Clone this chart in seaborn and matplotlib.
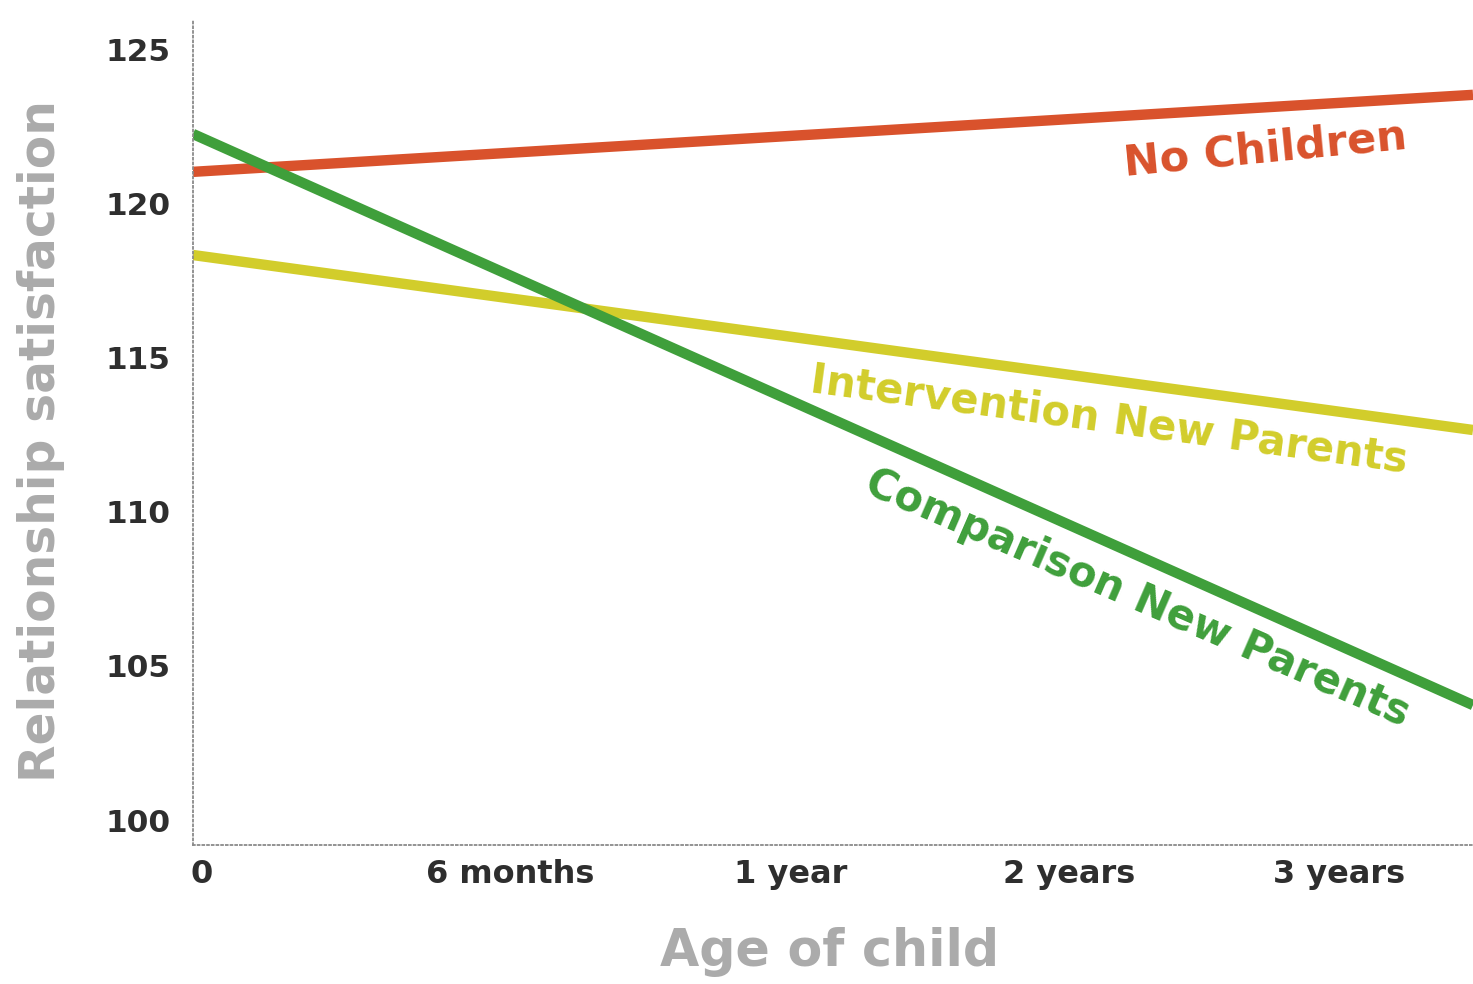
import matplotlib
matplotlib.use("Agg")
import matplotlib.pyplot as plt
import seaborn as sns
import pandas as pd

# Relationship satisfaction over the child's first years (straight-line trends)
age_positions = [0.0, 4.5]
no_children = [121.04, 123.54]
intervention = [118.34, 112.66]
comparison = [122.27, 103.73]

series_names = ["No Children", "Intervention New Parents", "Comparison New Parents"]
series_colors = ["#d9522c", "#d2cd2b", "#3f9f3b"]

tick_positions = [0.03, 1.115, 2.10, 3.08, 4.03]
tick_labels = ["0", "6 months", "1 year", "2 years", "3 years"]
y_ticks = [100, 105, 110, 115, 120, 125]

rows = []
for name, vals in zip(series_names, [no_children, intervention, comparison]):
    for x, v in zip(age_positions, vals):
        rows.append({"age": x, "score": v, "group": name})
df = pd.DataFrame(rows)

sns.set_theme(style="white")
plt.rcParams["font.family"] = ["DejaVu Sans"]

fig = plt.figure(figsize=(14.73, 9.84), dpi=100)
ax = fig.add_axes([0.131, 0.1413, 0.869, 0.8384])

sns.lineplot(data=df, x="age", y="score", hue="group", hue_order=series_names,
             palette=series_colors, linewidth=7.5, ax=ax, legend=False,
             solid_capstyle="butt")

ax.set_xlim(0, 4.5)
ax.set_ylim(99.19, 125.97)
ax.set_yticks(y_ticks)
ax.set_yticklabels([str(t) for t in y_ticks], fontsize=22.5, fontweight="bold", color="#2e2e2e")
ax.set_xticks(tick_positions)
ax.set_xticklabels(tick_labels, fontsize=23, fontweight="bold", color="#2e2e2e")
ax.tick_params(axis="y", length=4, width=1, color="#cfcfcf", pad=12, direction="out")
ax.tick_params(axis="x", length=0, pad=10)

for side in ["top", "right"]:
    ax.spines[side].set_visible(False)
for side in ["left", "bottom"]:
    ax.spines[side].set_linestyle((0, (1, 1.6)))
    ax.spines[side].set_color("#8a8a8a")
    ax.spines[side].set_linewidth(1.3)

ax.set_xlabel("Age of child", fontsize=36.5, fontweight="bold", color="#ababab")
ax.set_ylabel("Relationship satisfaction", fontsize=35, fontweight="bold", color="#ababab")
ax.xaxis.set_label_coords(0.497, -0.1)
ax.yaxis.set_label_coords(-0.1, 0.49)

# Labels placed along each trend line
ax.text(3.77, 121.75, "No Children", color=series_colors[0], fontsize=31, fontweight="bold",
        rotation=5.5, ha="center", va="center", rotation_mode="anchor")
ax.text(3.22, 112.99, "Intervention New Parents", color=series_colors[1], fontsize=30,
        fontweight="bold", rotation=-7.7, ha="center", va="center", rotation_mode="anchor")
ax.text(3.32, 107.2, "Comparison New Parents", color=series_colors[2], fontsize=30,
        fontweight="bold", rotation=-23.5, ha="center", va="center", rotation_mode="anchor")

fig.savefig("out.png", dpi=100)
